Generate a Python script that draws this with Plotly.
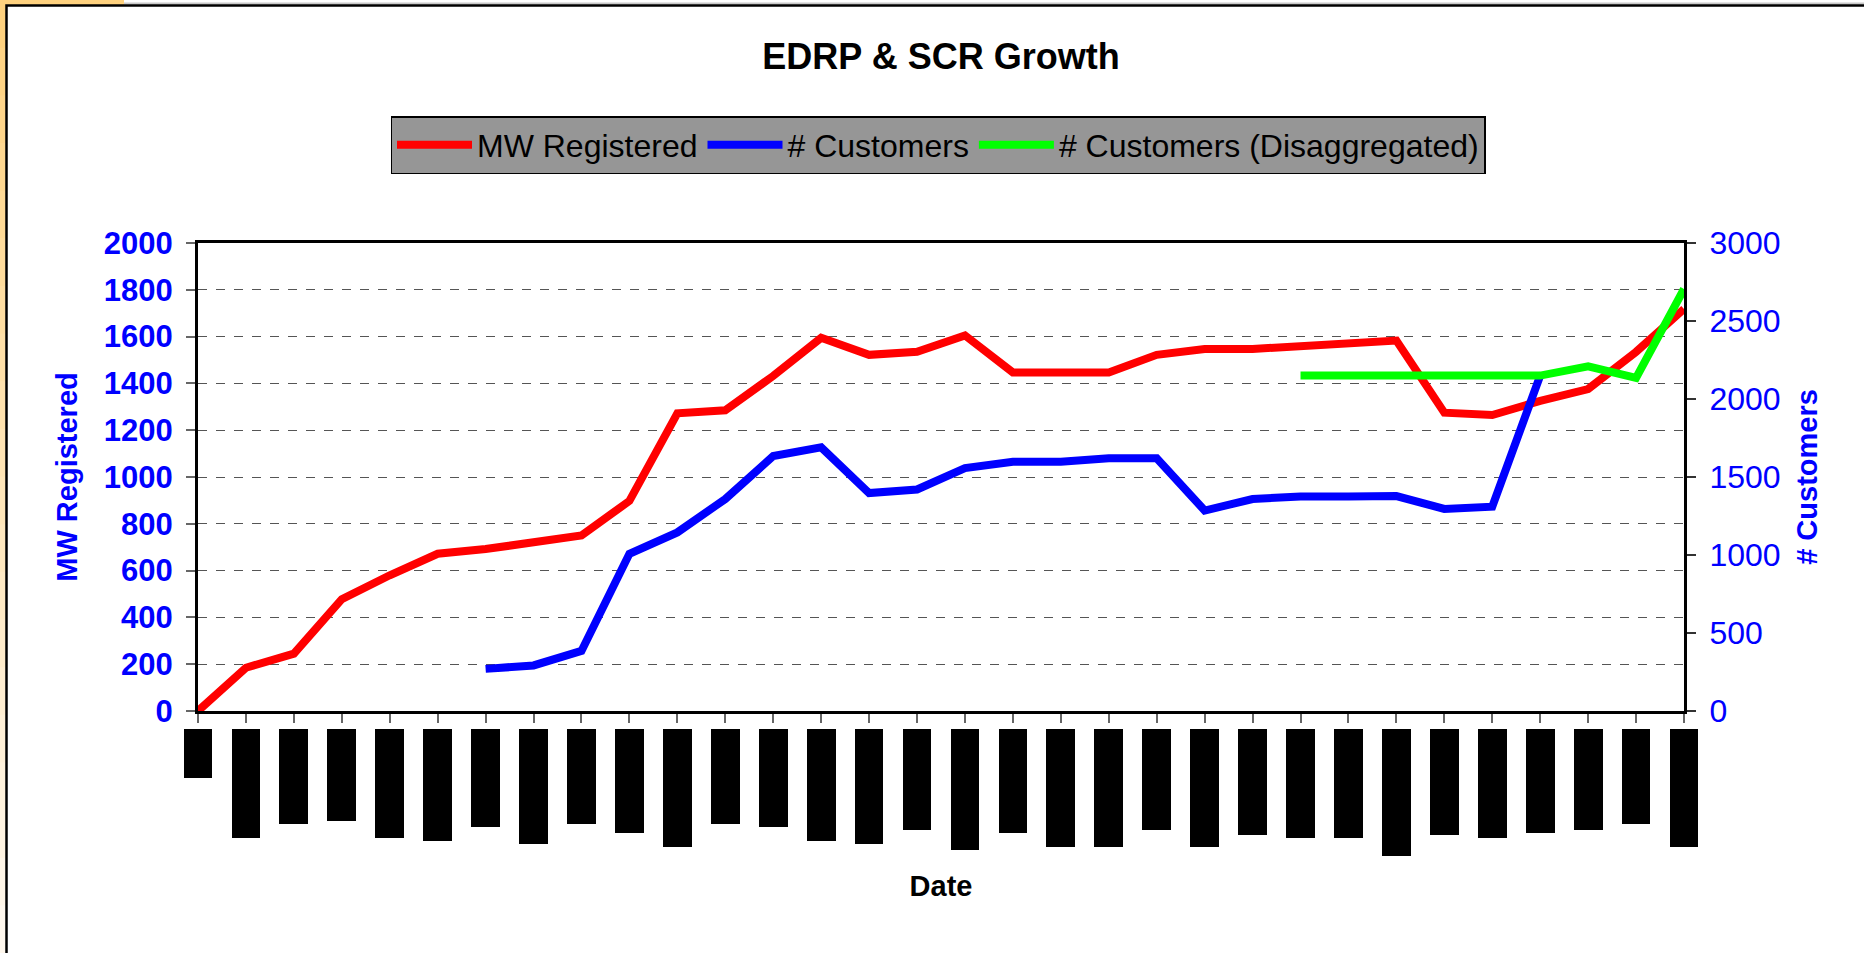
import plotly.graph_objects as go

# ---------------- data ----------------
periods = list(range(1, 33))  # 32 date labels (illegible / redacted in the reference)

mw_registered = [0, 185, 245, 478, 580, 672, 692, 717, 750, 898, 1272, 1285, 1432, 1595,
                 1522, 1535, 1605, 1447, 1447, 1447, 1522, 1547, 1547, 1557, 1570, 1583,
                 1275, 1265, 1325, 1376, 1535, 1718]

customers = [None, None, None, None, None, None, 270, 292, 385, 1008, 1145, 1359, 1634,
             1690, 1397, 1420, 1557, 1598, 1598, 1620, 1620, 1285, 1359, 1375, 1375, 1378,
             1295, 1310, 2150, None, None, None]

customers_disagg = [None, None, None, None, None, None, None, None, None, None, None, None,
                    None, None, None, None, None, None, None, None, None, None, None, 2150,
                    2150, 2150, 2150, 2150, 2150, 2210, 2135, 2705]

# lengths of the redacted (blacked-out) date labels, in pixels
label_lengths = [49, 109, 95, 92, 109, 112, 98, 115, 95, 104, 118, 95, 98, 112, 115, 101,
                 121, 104, 118, 118, 101, 118, 106, 109, 109, 127, 106, 109, 104, 101, 95, 118]

# ---------------- layout geometry (pixels) ----------------
W, H = 1864, 953
PL, PR = 174, 1708       # plotting-area left/right incl. half-category padding
PT, PB = 243, 860        # plotting-area top/bottom
AX_L, AX_R = 198, 1684   # main x axis extent
AX_B = 711               # main plot bottom
LBL_TOP = 729            # top of label blocks

pw, ph = PR - PL, PB - PT


def px(x):
    return (x - PL) / pw


def py(y):
    return (PB - y) / ph


FONT = "Arial, Liberation Sans, sans-serif"
BLUE = "#0000ff"
LW = 8

fig = go.Figure()

fig.add_trace(go.Scatter(x=periods, y=mw_registered, name="MW Registered", mode="lines",
                         line=dict(color="#ff0000", width=LW), xaxis="x", yaxis="y"))
fig.add_trace(go.Scatter(x=periods, y=customers, name="# Customers", mode="lines",
                         line=dict(color="#0000ff", width=LW), xaxis="x", yaxis="y2"))
fig.add_trace(go.Scatter(x=periods, y=customers_disagg, name="# Customers (Disaggregated)",
                         mode="lines", line=dict(color="#00ff00", width=LW),
                         xaxis="x", yaxis="y2"))
# redacted tick labels
fig.add_trace(go.Bar(x=periods, y=label_lengths, marker=dict(color="#000000", line=dict(width=0)),
                     width=0.6, xaxis="x2", yaxis="y3", showlegend=False, hoverinfo="skip"))

main_bottom = py(AX_B)
lbl_top = py(LBL_TOP)

fig.update_layout(
    width=W, height=H,
    margin=dict(l=PL, r=W - PR, t=PT, b=H - PB, autoexpand=False),
    paper_bgcolor="white", plot_bgcolor="white",
    font=dict(family=FONT, color="black"),
    title=dict(text="<b>EDRP &amp; SCR Growth</b>", font=dict(size=36, color="black", family=FONT),
               x=px((AX_L + AX_R) / 2), xref="paper", xanchor="center",
               y=1 - 56 / H, yref="container", yanchor="middle"),
    legend=dict(orientation="h", x=px(938), xanchor="center", y=py(116), yanchor="top",
                bgcolor="#969696", bordercolor="black", borderwidth=1.5,
                font=dict(size=32, color="black", family=FONT), itemwidth=75,
                traceorder="normal"),
    xaxis=dict(domain=[px(AX_L), px(AX_R)], range=[1, 32], anchor="y", showgrid=False,
               zeroline=False, showline=True, linecolor="black", linewidth=3, mirror=True,
               ticks="outside", ticklen=9, tickcolor="#666666", tickwidth=1.5, dtick=1, tick0=1,
               showticklabels=False),
    xaxis2=dict(domain=[0, 1], range=[0.5, 32.5], anchor="y3", showgrid=False, zeroline=False,
                showline=False, ticks="", showticklabels=False,
                title=dict(text="<b>Date</b>", font=dict(size=29, color="black", family=FONT),
                           standoff=15)),
    yaxis=dict(domain=[main_bottom, 1], range=[0, 2000], dtick=200, anchor="x",
               showgrid=True, gridcolor="#555555", griddash="dash", gridwidth=1,
               zeroline=False, showline=True, linecolor="black", linewidth=3,
               ticks="outside", ticklen=9, tickcolor="#666666", tickwidth=1.5,
               tickfont=dict(size=31, color=BLUE, family=FONT, weight="bold"),
               ticklabelstandoff=7,
               title=dict(text="<b>MW Registered</b>", font=dict(size=29, color=BLUE, family=FONT),
                          standoff=18)),
    yaxis2=dict(domain=[main_bottom, 1], range=[0, 3000], dtick=500, anchor="x",
                overlaying="y", side="right", showgrid=False, zeroline=False,
                showline=True, linecolor="black", linewidth=3,
                ticks="outside", ticklen=9, tickcolor="#333333", tickwidth=1.5,
                tickfont=dict(size=32, color=BLUE, family=FONT),
                ticklabelstandoff=7,
                title=dict(text="<b># Customers</b>", font=dict(size=29, color=BLUE, family=FONT),
                           standoff=18)),
    yaxis4=dict(domain=[main_bottom, 1], range=[0, 3000], dtick=500, anchor="x",
                overlaying="y", side="right", showgrid=False, zeroline=False, showline=False,
                ticks="inside", ticklen=9, tickcolor="#333333", tickwidth=1.5,
                showticklabels=False),
    yaxis3=dict(domain=[0, lbl_top], range=[PB - LBL_TOP, 0], anchor="x2", showgrid=False,
                zeroline=False, showline=False, showticklabels=False, ticks=""),
    bargap=0,
    showlegend=True,
)

# frame decorations (slide border)
shapes = []
n = 20
top_c = (255, 210, 127)
bot_c = (255, 248, 238)
for i in range(n):
    t = i / (n - 1)
    c = tuple(round(top_c[k] + (bot_c[k] - top_c[k]) * t) for k in range(3))
    y0 = i * H / n
    y1 = (i + 1) * H / n + 1
    shapes.append(dict(type="rect", xref="paper", yref="paper",
                       x0=px(0), x1=px(6), y0=py(y1), y1=py(y0),
                       fillcolor=f"rgb{c}", line=dict(width=0), layer="below"))
shapes.append(dict(type="rect", xref="paper", yref="paper", x0=px(0), x1=px(124),
                   y0=py(5), y1=py(0), fillcolor="rgb(255,210,127)", line=dict(width=0),
                   layer="below"))
shapes.append(dict(type="line", xref="paper", yref="paper", x0=px(124), x1=px(W + 5),
                   y0=py(3.5), y1=py(3.5), line=dict(color="#c8c8c8", width=2), layer="below"))
shapes.append(dict(type="rect", xref="paper", yref="paper", x0=px(6.5), x1=px(W + 10),
                   y0=py(H + 10), y1=py(5.5), line=dict(color="black", width=2.5),
                   fillcolor="rgba(0,0,0,0)", layer="below"))
fig.update_layout(shapes=shapes)

fig.write_html("out.html", config={"displayModeBar": False},
               post_script="document.body.style.margin='0';document.body.style.overflow='hidden';")
